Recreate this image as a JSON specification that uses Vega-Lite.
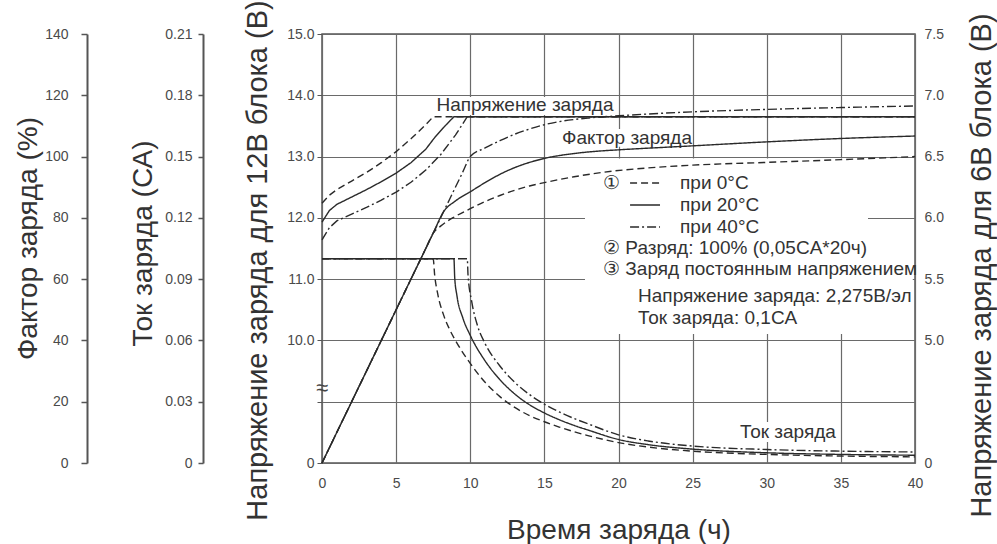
{
  "$schema": "https://vega.github.io/schema/vega-lite/v6.json",
  "width": 593,
  "height": 429,
  "autosize": {"type": "none"},
  "padding": {"left": 322, "top": 34, "right": 82, "bottom": 81},
  "background": "white",
  "config": {
    "font": "Liberation Sans",
    "view": {"stroke": "#555", "strokeWidth": 1.5},
    "axis": {
      "labelFont": "Liberation Sans", "labelFontSize": 14, "labelColor": "#4a4a4a",
      "titleFont": "Liberation Sans", "titleFontSize": 28, "titleFontWeight": "normal", "titleColor": "#333",
      "domainColor": "#555", "tickColor": "#555", "gridColor": "#6a6a6a", "gridWidth": 1.2,
      "labelOverlap": false, "labelFlush": false
    }
  },
  "datasets": {
    "volt": [
      {"t": "0°C", "x": 0, "v": 12.24}, {"t": "0°C", "x": 0.5, "v": 12.37}, {"t": "0°C", "x": 1, "v": 12.46}, {"t": "0°C", "x": 2, "v": 12.6}, {"t": "0°C", "x": 3, "v": 12.74}, {"t": "0°C", "x": 4, "v": 12.9}, {"t": "0°C", "x": 5, "v": 13.08}, {"t": "0°C", "x": 6, "v": 13.29}, {"t": "0°C", "x": 7, "v": 13.52}, {"t": "0°C", "x": 7.5, "v": 13.65}, {"t": "0°C", "x": 40, "v": 13.65},
      {"t": "20°C", "x": 0, "v": 11.93}, {"t": "20°C", "x": 0.5, "v": 12.12}, {"t": "20°C", "x": 1, "v": 12.22}, {"t": "20°C", "x": 2, "v": 12.34}, {"t": "20°C", "x": 3, "v": 12.46}, {"t": "20°C", "x": 4, "v": 12.59}, {"t": "20°C", "x": 5, "v": 12.73}, {"t": "20°C", "x": 6, "v": 12.9}, {"t": "20°C", "x": 7, "v": 13.12}, {"t": "20°C", "x": 7.6, "v": 13.31}, {"t": "20°C", "x": 8.3, "v": 13.5}, {"t": "20°C", "x": 8.9, "v": 13.65}, {"t": "20°C", "x": 40, "v": 13.65},
      {"t": "40°C", "x": 0, "v": 11.64}, {"t": "40°C", "x": 0.5, "v": 11.84}, {"t": "40°C", "x": 1, "v": 11.95}, {"t": "40°C", "x": 2, "v": 12.06}, {"t": "40°C", "x": 3, "v": 12.17}, {"t": "40°C", "x": 4, "v": 12.29}, {"t": "40°C", "x": 5, "v": 12.42}, {"t": "40°C", "x": 6, "v": 12.58}, {"t": "40°C", "x": 7, "v": 12.78}, {"t": "40°C", "x": 8, "v": 13.03}, {"t": "40°C", "x": 9, "v": 13.35}, {"t": "40°C", "x": 9.8, "v": 13.65}, {"t": "40°C", "x": 40, "v": 13.65}
    ],
    "factor": [
      {"t": "0°C", "x": 0, "f": 0}, {"t": "0°C", "x": 2.5, "f": 25}, {"t": "0°C", "x": 5, "f": 50}, {"t": "0°C", "x": 7, "f": 70}, {"t": "0°C", "x": 7.5, "f": 75}, {"t": "0°C", "x": 8, "f": 77.3}, {"t": "0°C", "x": 9, "f": 80.5}, {"t": "0°C", "x": 10, "f": 83}, {"t": "0°C", "x": 11, "f": 85.3}, {"t": "0°C", "x": 12, "f": 87.3}, {"t": "0°C", "x": 13, "f": 89}, {"t": "0°C", "x": 14, "f": 90.4}, {"t": "0°C", "x": 15, "f": 91.5}, {"t": "0°C", "x": 17, "f": 93.4}, {"t": "0°C", "x": 19, "f": 94.9}, {"t": "0°C", "x": 22, "f": 96.3}, {"t": "0°C", "x": 25, "f": 97.2}, {"t": "0°C", "x": 30, "f": 98.1}, {"t": "0°C", "x": 35, "f": 99}, {"t": "0°C", "x": 40, "f": 100},
      {"t": "20°C", "x": 0, "f": 0}, {"t": "20°C", "x": 2.5, "f": 25}, {"t": "20°C", "x": 5, "f": 50}, {"t": "20°C", "x": 7.5, "f": 75}, {"t": "20°C", "x": 8.2, "f": 82}, {"t": "20°C", "x": 9, "f": 85.5}, {"t": "20°C", "x": 10, "f": 88.5}, {"t": "20°C", "x": 11, "f": 91.5}, {"t": "20°C", "x": 12, "f": 94.2}, {"t": "20°C", "x": 13, "f": 96.4}, {"t": "20°C", "x": 14, "f": 98.1}, {"t": "20°C", "x": 15, "f": 99.4}, {"t": "20°C", "x": 17, "f": 101}, {"t": "20°C", "x": 19, "f": 101.9}, {"t": "20°C", "x": 20, "f": 102.2}, {"t": "20°C", "x": 25, "f": 103.5}, {"t": "20°C", "x": 30, "f": 104.8}, {"t": "20°C", "x": 35, "f": 105.9}, {"t": "20°C", "x": 40, "f": 106.7},
      {"t": "40°C", "x": 0, "f": 0}, {"t": "40°C", "x": 2.5, "f": 25}, {"t": "40°C", "x": 5, "f": 50}, {"t": "40°C", "x": 7.5, "f": 75}, {"t": "40°C", "x": 9.5, "f": 95}, {"t": "40°C", "x": 10, "f": 100}, {"t": "40°C", "x": 11, "f": 102.8}, {"t": "40°C", "x": 12, "f": 105.2}, {"t": "40°C", "x": 13, "f": 107.3}, {"t": "40°C", "x": 14, "f": 109}, {"t": "40°C", "x": 15, "f": 110.4}, {"t": "40°C", "x": 16, "f": 111.4}, {"t": "40°C", "x": 17, "f": 112.1}, {"t": "40°C", "x": 18, "f": 112.6}, {"t": "40°C", "x": 20, "f": 113.3}, {"t": "40°C", "x": 25, "f": 114.6}, {"t": "40°C", "x": 30, "f": 115.4}, {"t": "40°C", "x": 35, "f": 116}, {"t": "40°C", "x": 40, "f": 116.5}
    ],
    "current": [
      {"t": "0°C", "x": 0, "c": 0.1}, {"t": "0°C", "x": 7.5, "c": 0.1}, {"t": "0°C", "x": 7.6, "c": 0.092}, {"t": "0°C", "x": 7.8, "c": 0.083}, {"t": "0°C", "x": 8.2, "c": 0.0725}, {"t": "0°C", "x": 8.6, "c": 0.0655}, {"t": "0°C", "x": 9, "c": 0.06}, {"t": "0°C", "x": 10, "c": 0.0488}, {"t": "0°C", "x": 11, "c": 0.0395}, {"t": "0°C", "x": 12, "c": 0.0325}, {"t": "0°C", "x": 13, "c": 0.0272}, {"t": "0°C", "x": 14, "c": 0.0232}, {"t": "0°C", "x": 15, "c": 0.0202}, {"t": "0°C", "x": 16, "c": 0.0176}, {"t": "0°C", "x": 17, "c": 0.0153}, {"t": "0°C", "x": 18, "c": 0.0133}, {"t": "0°C", "x": 20, "c": 0.01}, {"t": "0°C", "x": 22, "c": 0.0078}, {"t": "0°C", "x": 25, "c": 0.0058}, {"t": "0°C", "x": 30, "c": 0.0042}, {"t": "0°C", "x": 35, "c": 0.0034}, {"t": "0°C", "x": 40, "c": 0.003},
      {"t": "20°C", "x": 0, "c": 0.1}, {"t": "20°C", "x": 8.9, "c": 0.1}, {"t": "20°C", "x": 8.95, "c": 0.091}, {"t": "20°C", "x": 9.1, "c": 0.082}, {"t": "20°C", "x": 9.5, "c": 0.071}, {"t": "20°C", "x": 10, "c": 0.0625}, {"t": "20°C", "x": 11, "c": 0.05}, {"t": "20°C", "x": 12, "c": 0.0408}, {"t": "20°C", "x": 13, "c": 0.0338}, {"t": "20°C", "x": 14, "c": 0.0285}, {"t": "20°C", "x": 15, "c": 0.0245}, {"t": "20°C", "x": 16, "c": 0.0212}, {"t": "20°C", "x": 17, "c": 0.0184}, {"t": "20°C", "x": 18, "c": 0.016}, {"t": "20°C", "x": 20, "c": 0.0115}, {"t": "20°C", "x": 22, "c": 0.009}, {"t": "20°C", "x": 25, "c": 0.0068}, {"t": "20°C", "x": 30, "c": 0.005}, {"t": "20°C", "x": 35, "c": 0.0042}, {"t": "20°C", "x": 40, "c": 0.0038},
      {"t": "40°C", "x": 0, "c": 0.1}, {"t": "40°C", "x": 9.8, "c": 0.1}, {"t": "40°C", "x": 9.85, "c": 0.092}, {"t": "40°C", "x": 10.1, "c": 0.079}, {"t": "40°C", "x": 10.5, "c": 0.067}, {"t": "40°C", "x": 11, "c": 0.0585}, {"t": "40°C", "x": 12, "c": 0.0475}, {"t": "40°C", "x": 13, "c": 0.0395}, {"t": "40°C", "x": 14, "c": 0.0335}, {"t": "40°C", "x": 15, "c": 0.0288}, {"t": "40°C", "x": 16, "c": 0.025}, {"t": "40°C", "x": 17, "c": 0.0218}, {"t": "40°C", "x": 18, "c": 0.019}, {"t": "40°C", "x": 20, "c": 0.0138}, {"t": "40°C", "x": 22, "c": 0.0108}, {"t": "40°C", "x": 25, "c": 0.0083}, {"t": "40°C", "x": 30, "c": 0.0066}, {"t": "40°C", "x": 35, "c": 0.0058}, {"t": "40°C", "x": 40, "c": 0.0054}
    ],
    "boxes": [
      {"x": 17.74, "x2": 36.83, "v": 12.97, "v2": 10.105},
      {"x": 17.74, "x2": 39.85, "v": 11.345, "v2": 10.105},
      {"x": 7.76, "x2": 19.83, "v": 13.972, "v2": 13.68},
      {"x": 16.19, "x2": 24.82, "v": 13.45, "v2": 13.16},
      {"x": 28.06, "x2": 34.67, "v": 8.669, "v2": 8.343}
    ],
    "legendLines": [
      {"t": "0°C", "x": 20.78, "x2": 22.8, "v": 12.569},
      {"t": "20°C", "x": 20.78, "x2": 22.8, "v": 12.21},
      {"t": "40°C", "x": 20.78, "x2": 22.8, "v": 11.851}
    ],
    "legendText": [
      {"label": "①", "x": 18.96, "v": 12.569},
      {"label": "при 0°C", "x": 24.15, "v": 12.569},
      {"label": "при 20°C", "x": 24.15, "v": 12.21},
      {"label": "при 40°C", "x": 24.15, "v": 11.851},
      {"label": "② Разряд: 100% (0,05CA*20ч)", "x": 18.96, "v": 11.508},
      {"label": "③ Заряд постоянным напряжением", "x": 18.96, "v": 11.166},
      {"label": "Напряжение заряда: 2,275В/эл", "x": 21.32, "v": 10.725},
      {"label": "Ток заряда: 0,1CA", "x": 21.32, "v": 10.366}
    ],
    "plotText": [
      {"label": "Напряжение заряда", "x": 13.69, "v": 13.841},
      {"label": "Фактор заряда", "x": 20.57, "v": 13.303},
      {"label": "Ток заряда", "x": 31.43, "v": 8.506}
    ],
    "breakMark": [
      {"label": "≈", "x": 0, "v": 9.22}
    ],
    "v6": [
      {"x": 0, "v": 4}, {"x": 0, "v": 7.5}
    ]
  },
  "encoding": {
    "x": {
      "field": "x", "type": "quantitative",
      "scale": {"domain": [0, 40], "nice": false, "zero": false},
      "axis": {
        "values": [0, 5, 10, 15, 20, 25, 30, 35, 40], "grid": true, "ticks": false, "domain": false,
        "labelPadding": 13, "format": "d",
        "title": "Время заряда (ч)", "titleX": 296.5, "titleY": 75, "titleBaseline": "alphabetic", "titleAlign": "center", "titleAngle": 0
      }
    }
  },
  "layer": [
    {
      "encoding": {
        "y": {
          "field": "v", "type": "quantitative",
          "scale": {"domain": [8, 15], "nice": false, "zero": false},
          "axis": {
            "orient": "left", "values": [8, 9, 10, 11, 12, 13, 14, 15],
            "labelExpr": "datum.value == 8 ? '0' : (datum.value == 9 ? '' : format(datum.value, '.1f'))",
            "grid": true, "tickSize": 5, "labelPadding": 3, "domain": false,
            "title": "Напряжение заряда для 12В блока (В)", "titleFontSize": 29, "titleAngle": 270, "titleBaseline": "alphabetic", "titleAlign": "center",
            "titleX": -56, "titleY": 226
          }
        }
      },
      "layer": [
        {
          "data": {"name": "boxes"},
          "mark": {"type": "rect", "fill": "white", "strokeWidth": 0},
          "encoding": {"x2": {"field": "x2"}, "y2": {"field": "v2"}}
        },
        {
          "data": {"name": "volt"},
          "mark": {"type": "line", "interpolate": "linear", "strokeWidth": 1.4, "color": "#2a2a2a"},
          "encoding": {
            "strokeDash": {"field": "t", "type": "nominal", "scale": {"domain": ["0°C", "20°C", "40°C"], "range": [[7, 4], [1, 0], [9, 3, 2, 3]]}, "legend": null}
          }
        },
        {
          "data": {"name": "legendLines"},
          "mark": {"type": "rule", "strokeWidth": 1.4, "color": "#2a2a2a"},
          "encoding": {
            "x2": {"field": "x2"},
            "strokeDash": {"field": "t", "type": "nominal", "scale": {"domain": ["0°C", "20°C", "40°C"], "range": [[7, 4], [1, 0], [9, 3, 2, 3]]}, "legend": null}
          }
        },
        {
          "data": {"name": "legendText"},
          "mark": {"type": "text", "align": "left", "baseline": "middle", "fontSize": 19, "color": "#333", "font": "Liberation Sans"},
          "encoding": {"text": {"field": "label"}}
        },
        {
          "data": {"name": "plotText"},
          "mark": {"type": "text", "align": "center", "baseline": "middle", "fontSize": 19, "color": "#333", "font": "Liberation Sans"},
          "encoding": {"text": {"field": "label"}}
        },
        {
          "data": {"name": "breakMark"},
          "mark": {"type": "text", "align": "center", "baseline": "middle", "fontSize": 22, "color": "#444"},
          "encoding": {"text": {"field": "label"}}
        }
      ]
    },
    {
      "data": {"name": "factor"},
      "mark": {"type": "line", "interpolate": "monotone", "strokeWidth": 1.4, "color": "#2a2a2a"},
      "encoding": {
        "y": {
          "field": "f", "type": "quantitative",
          "scale": {"domain": [0, 140], "nice": false},
          "axis": {
            "orient": "left", "offset": 235, "values": [0, 20, 40, 60, 80, 100, 120, 140], "format": "d",
            "grid": false, "tickSize": 6, "labelPadding": 13, "domainWidth": 2, "tickWidth": 1.5,
            "title": "Фактор заряда (%)", "titleAngle": 270, "titleBaseline": "alphabetic", "titleAlign": "center",
            "titleX": -51, "titleY": 204
          }
        },
        "strokeDash": {"field": "t", "type": "nominal", "scale": {"domain": ["0°C", "20°C", "40°C"], "range": [[7, 4], [1, 0], [9, 3, 2, 3]]}, "legend": null}
      }
    },
    {
      "data": {"name": "current"},
      "mark": {"type": "line", "interpolate": "monotone", "strokeWidth": 1.4, "color": "#2a2a2a"},
      "encoding": {
        "y": {
          "field": "c", "type": "quantitative",
          "scale": {"domain": [0, 0.21], "nice": false},
          "axis": {
            "orient": "left", "offset": 119, "values": [0, 0.03, 0.06, 0.09, 0.12, 0.15, 0.18, 0.21],
            "labelExpr": "datum.value == 0 ? '0' : format(datum.value, '.2f')",
            "grid": false, "tickSize": 5, "labelPadding": 6, "domainWidth": 2, "tickWidth": 1.5,
            "title": "Ток заряда (СА)", "titleAngle": 270, "titleBaseline": "alphabetic", "titleAlign": "center",
            "titleX": -52, "titleY": 209
          }
        },
        "strokeDash": {"field": "t", "type": "nominal", "scale": {"domain": ["0°C", "20°C", "40°C"], "range": [[7, 4], [1, 0], [9, 3, 2, 3]]}, "legend": null}
      }
    },
    {
      "data": {"name": "v6"},
      "mark": {"type": "point", "opacity": 0},
      "encoding": {
        "y": {
          "field": "v", "type": "quantitative",
          "scale": {"domain": [4, 7.5], "nice": false, "zero": false},
          "axis": {
            "orient": "right", "values": [4, 5, 5.5, 6, 6.5, 7, 7.5],
            "labelExpr": "datum.value == 4 ? '0' : format(datum.value, '.1f')",
            "grid": false, "ticks": false, "labelPadding": 9, "domain": false,
            "title": "Напряжение заряда для 6В блока (В)", "titleFontSize": 29, "titleAngle": 270, "titleBaseline": "alphabetic", "titleAlign": "center",
            "titleX": 75, "titleY": 231
          }
        }
      }
    }
  ],
  "resolve": {"scale": {"y": "independent"}}
}
